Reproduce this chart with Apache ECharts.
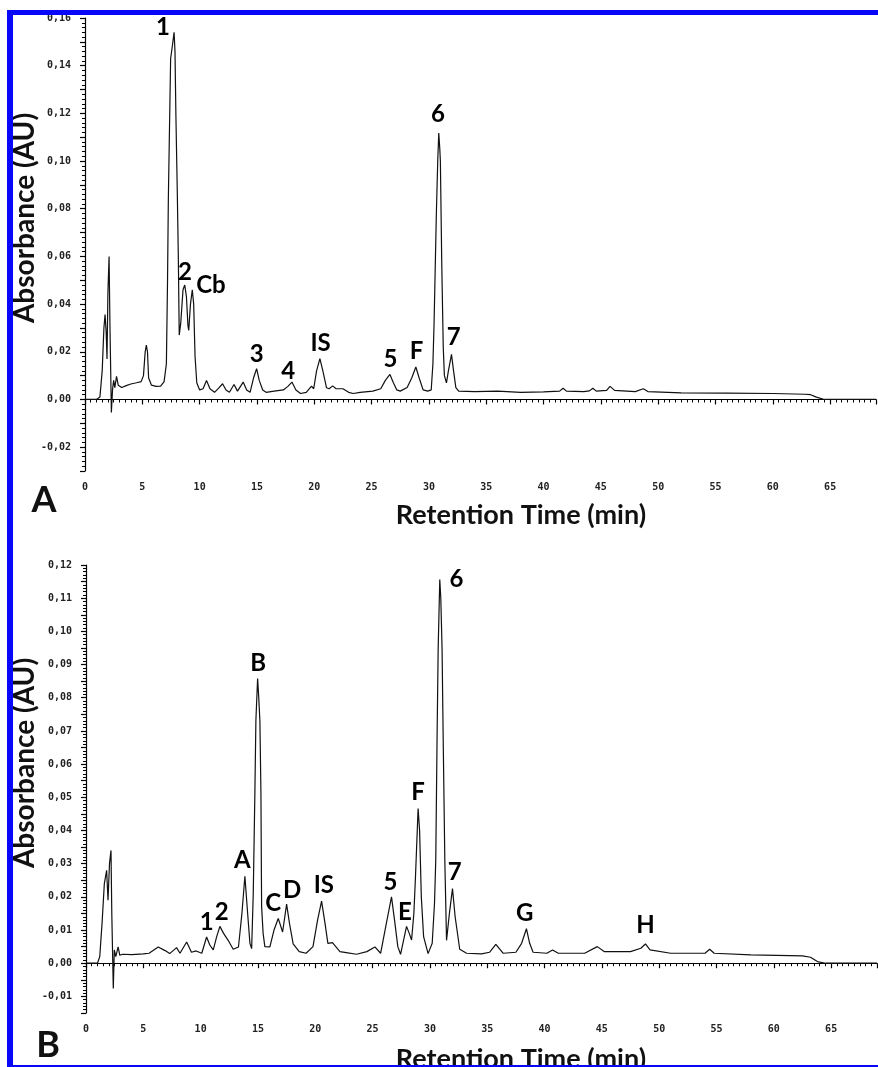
<!DOCTYPE html>
<html>
<head>
<meta charset="utf-8">
<script src="https://cdn.jsdelivr.net/npm/echarts@6/dist/echarts.min.js"></script>
<style>
html,body{margin:0;padding:0;background:#fff;}
#chart{width:878px;height:1067px;}
</style>
</head>
<body>
<div id="chart"></div>
<script>
// ---------- Panel A chromatogram ----------
const timeA = [0,1.0,1.3,1.5,1.65,1.75,1.85,1.92,2.0,2.1,2.18,2.3,2.4,2.5,2.6,2.75,2.9,3.2,3.6,4.0,4.5,4.9,5.1,5.25,5.35,5.45,5.55,5.8,6.2,6.6,6.9,7.1,7.2,7.27,7.47,7.64,7.77,7.85,7.93,8.05,8.14,8.22,8.35,8.55,8.7,8.85,8.98,9.05,9.2,9.36,9.48,9.6,9.75,10.0,10.3,10.6,10.9,11.3,11.7,12.0,12.3,12.6,13.0,13.3,13.8,14.1,14.4,14.7,14.97,15.2,15.5,15.8,16.5,17.3,17.7,18.05,18.4,18.8,19.3,19.76,19.95,20.2,20.49,20.75,21.07,21.3,21.6,21.9,22.5,23.0,23.4,24.0,25.1,25.8,26.2,26.6,26.9,27.2,27.5,28.1,28.5,28.86,29.15,29.5,29.9,30.2,30.35,30.45,30.65,30.77,30.86,30.95,31.0,31.12,31.25,31.35,31.53,31.7,31.97,32.15,32.35,32.6,34,36,38,40,41.4,41.7,42.0,43.5,44.0,44.3,44.6,45.5,45.8,46.2,48.0,48.7,49.1,52,56,60,62.8,63.3,63.8,64.5,69];
const absA = [0,0,0.001,0.012,0.030,0.0356,0.028,0.017,0.045,0.060,0.030,-0.0055,0.004,0.008,0.005,0.0097,0.006,0.005,0.0058,0.0065,0.007,0.0075,0.010,0.020,0.0228,0.020,0.009,0.006,0.0055,0.0056,0.0075,0.015,0.050,0.084,0.143,0.149,0.154,0.146,0.119,0.087,0.060,0.027,0.032,0.046,0.048,0.043,0.031,0.029,0.040,0.046,0.040,0.018,0.007,0.004,0.0045,0.008,0.0045,0.003,0.005,0.0066,0.004,0.003,0.0063,0.0035,0.0073,0.004,0.003,0.009,0.0129,0.008,0.004,0.003,0.0035,0.004,0.0055,0.0073,0.004,0.0025,0.003,0.0056,0.0045,0.012,0.0171,0.012,0.0049,0.0045,0.0057,0.0045,0.0045,0.003,0.0025,0.003,0.0035,0.0045,0.008,0.0105,0.007,0.004,0.0035,0.005,0.009,0.0136,0.009,0.004,0.0035,0.004,0.015,0.032,0.078,0.100,0.1118,0.105,0.100,0.057,0.022,0.010,0.007,0.012,0.0189,0.012,0.005,0.0035,0.0033,0.0035,0.003,0.0032,0.0035,0.0047,0.0035,0.0033,0.0036,0.0047,0.0035,0.0038,0.0055,0.0038,0.0033,0.0045,0.0033,0.0028,0.0027,0.0025,0.0022,0.002,0.001,0,0];

// ---------- Panel B chromatogram ----------
const timeB = [0,1.0,1.2,1.4,1.6,1.8,1.92,2.05,2.18,2.25,2.38,2.47,2.6,2.8,2.95,3.2,4.0,5.0,5.5,6.3,6.9,7.3,7.9,8.2,8.78,9.2,9.6,10.1,10.52,10.8,11.1,11.4,11.68,12.0,12.4,12.84,13.3,13.6,13.86,14.1,14.3,14.45,14.59,14.73,14.82,14.97,15.07,15.17,15.26,15.3,15.32,15.45,15.6,16.04,16.4,16.77,17.15,17.5,17.75,18.07,18.6,19.2,19.8,20.2,20.55,20.85,21.1,21.5,22.15,22.7,23.6,24.5,25.2,25.7,26.2,26.65,26.95,27.2,27.44,27.96,28.2,28.4,28.6,28.74,28.97,29.1,29.25,29.45,29.84,30.2,30.4,30.51,30.63,30.72,30.86,30.95,31.06,31.15,31.3,31.45,31.7,31.97,32.2,32.6,33.2,34.5,35.2,35.75,36.4,37.5,38.0,38.42,38.7,39.0,40.2,40.7,41.2,43.5,44.6,45.2,47.5,48.4,48.8,49.2,51,54.0,54.4,54.8,58,62.5,63.2,63.8,64.5,69];
const absB = [0,0,0.002,0.012,0.024,0.028,0.019,0.030,0.034,0.015,-0.0076,0.004,0.002,0.0049,0.0024,0.0027,0.0026,0.0028,0.003,0.0049,0.0038,0.0029,0.0047,0.003,0.0064,0.0033,0.0037,0.003,0.0079,0.0055,0.004,0.008,0.0111,0.009,0.0069,0.0042,0.0049,0.015,0.0262,0.015,0.006,0.0044,0.021,0.051,0.0732,0.0858,0.080,0.073,0.051,0.027,0.017,0.009,0.005,0.0049,0.010,0.0135,0.0094,0.0178,0.012,0.0058,0.0035,0.003,0.005,0.013,0.0187,0.012,0.006,0.0062,0.0035,0.0032,0.0027,0.0035,0.0049,0.003,0.012,0.020,0.012,0.005,0.0027,0.0111,0.009,0.007,0.015,0.026,0.0466,0.040,0.020,0.008,0.0029,0.006,0.018,0.031,0.0697,0.0948,0.1156,0.110,0.0948,0.0697,0.031,0.0069,0.015,0.0225,0.014,0.0042,0.003,0.0028,0.0033,0.0057,0.003,0.0033,0.006,0.0104,0.006,0.0033,0.003,0.004,0.003,0.003,0.005,0.0035,0.0035,0.0045,0.0058,0.004,0.003,0.003,0.0042,0.003,0.0025,0.0022,0.0018,0.0005,0,0];

// ---------- Peak labels (data coordinates) ----------
const peakNamesA = ['1','2','Cb','3','4','IS','5','F','6','7'];
const peakTimesA = [6.8,8.72,10.99,14.97,17.72,20.55,26.65,28.92,30.8,32.17];
const peakLevelsA = [0.156,0.0532,0.0478,0.0189,0.0119,0.0235,0.0168,0.0203,0.1195,0.0263];

const peakNamesB = ['1','2','A','B','C','D','IS','5','E','F','6','7','G','H'];
const peakTimesB = [10.52,11.83,13.63,15.02,16.33,17.99,20.75,26.56,27.81,28.97,32.32,32.17,38.27,48.8];
const peakLevelsB = [0.0124,0.0155,0.031,0.0903,0.018,0.022,0.0235,0.0245,0.0155,0.0516,0.1156,0.0275,0.015,0.0115];

// ---------- Axis settings ----------
const xMin = 0, xMax = 69, xStep = 5;
const yMinA = -0.03, yMaxA = 0.16, yStepA = 0.01, yLabelStepA = 0.02;
const yMinB = -0.015, yMaxB = 0.12, yStepB = 0.005, yLabelStepB = 0.01;

const zip = (a, b) => a.map((v, i) => [v, b[i]]);
const zip3 = (a, b, c) => a.map((v, i) => [v, b[i], c[i]]);

const tickFont = {fontFamily: 'DejaVu Sans Mono', fontSize: 10, fontWeight: 'bold', color: '#222'};
function fmtY(step) {
  return function (v) {
    const k = Math.round(v / step * 1000) / 1000;
    if (Math.abs(k - Math.round(k)) > 1e-6) return '';
    if (Math.abs(v) < 1e-9) return '0,00';
    return v.toFixed(2).replace('.', ',');
  };
}
function mkX(idx) {
  return {
    type: 'value', gridIndex: idx, min: xMin, max: xMax, interval: xStep,
    axisLine: {show: true, lineStyle: {color: '#000', width: 1.2}},
    axisTick: {show: true, inside: false, length: 5, lineStyle: {color: '#000', width: 1.2}},
    minorTick: {show: true, splitNumber: 10, length: 3, lineStyle: {color: '#000'}},
    splitLine: {show: false},
    axisLabel: Object.assign({margin: 11, showMaxLabel: false}, tickFont)
  };
}
function mkY(idx, mn, mx, st, lst) {
  return {
    type: 'value', gridIndex: idx, min: mn, max: mx, interval: st,
    axisLine: {show: true, lineStyle: {color: '#000', width: 1.2}},
    axisTick: {show: true, inside: false, length: 5, lineStyle: {color: '#000', width: 1.2}},
    minorTick: {show: true, splitNumber: 5, length: 3, lineStyle: {color: '#000'}},
    splitLine: {show: false},
    axisLabel: Object.assign({margin: 14, formatter: fmtY(lst)}, tickFont)
  };
}
const peakLabel = {
  show: true, position: 'inside',
  formatter: p => p.data[2],
  fontFamily: 'Lato', fontWeight: 'bold', fontSize: 24, color: '#000', opacity: 1
};
const titleFont = {fontFamily: 'Lato', fontWeight: 'bold', fill: '#111'};
const blue = '#0808f8';

const chart = echarts.init(document.getElementById('chart'), null, {renderer: 'canvas'});
chart.setOption({
  animation: false,
  backgroundColor: '#fff',
  grid: [
    {left: 85, top: 18, width: 791, height: 453},
    {left: 86, top: 565, width: 791, height: 448}
  ],
  xAxis: [mkX(0), mkX(1)],
  yAxis: [mkY(0, yMinA, yMaxA, yStepA, yLabelStepA), mkY(1, yMinB, yMaxB, yStepB, yLabelStepB)],
  series: [
    {type: 'line', xAxisIndex: 0, yAxisIndex: 0, data: zip(timeA, absA), symbol: 'none',
     lineStyle: {color: '#111', width: 1.2}, clip: false},
    {type: 'line', xAxisIndex: 1, yAxisIndex: 1, data: zip(timeB, absB), symbol: 'none',
     lineStyle: {color: '#111', width: 1.2}, clip: false},
    {type: 'scatter', xAxisIndex: 0, yAxisIndex: 0, data: zip3(peakTimesA, peakLevelsA, peakNamesA),
     symbolSize: 1, itemStyle: {color: 'rgba(0,0,0,0)', opacity: 1}, label: peakLabel, z: 5},
    {type: 'scatter', xAxisIndex: 1, yAxisIndex: 1, data: zip3(peakTimesB, peakLevelsB, peakNamesB),
     symbolSize: 1, itemStyle: {color: 'rgba(0,0,0,0)', opacity: 1}, label: peakLabel, z: 5}
  ],
  graphic: [
    {type: 'rect', shape: {x: 7, y: 10, width: 871, height: 5}, style: {fill: blue}, z: 100},
    {type: 'rect', shape: {x: 7, y: 10, width: 6, height: 1057}, style: {fill: blue}, z: 100},
    {type: 'rect', shape: {x: 7, y: 1065, width: 871, height: 2}, style: {fill: blue}, z: 100},
    {type: 'text', x: 44, y: 500, style: Object.assign({text: 'A', fontSize: 36, textAlign: 'center', textVerticalAlign: 'middle'}, titleFont)},
    {type: 'text', x: 48, y: 1045, style: Object.assign({text: 'B', fontSize: 36, textAlign: 'center', textVerticalAlign: 'middle'}, titleFont)},
    {type: 'text', x: 521, y: 515, style: Object.assign({text: 'Retention Time (min)', fontSize: 27, textAlign: 'center', textVerticalAlign: 'middle'}, titleFont)},
    {type: 'text', x: 521, y: 1059, style: Object.assign({text: 'Retention Time (min)', fontSize: 27, textAlign: 'center', textVerticalAlign: 'middle'}, titleFont)},
    {type: 'text', x: 25, y: 218, rotation: Math.PI / 2, style: Object.assign({text: 'Absorbance (AU)', fontSize: 28, textAlign: 'center', textVerticalAlign: 'middle'}, titleFont)},
    {type: 'text', x: 25, y: 763, rotation: Math.PI / 2, style: Object.assign({text: 'Absorbance (AU)', fontSize: 28, textAlign: 'center', textVerticalAlign: 'middle'}, titleFont)}
  ]
});
</script>
</body>
</html>
